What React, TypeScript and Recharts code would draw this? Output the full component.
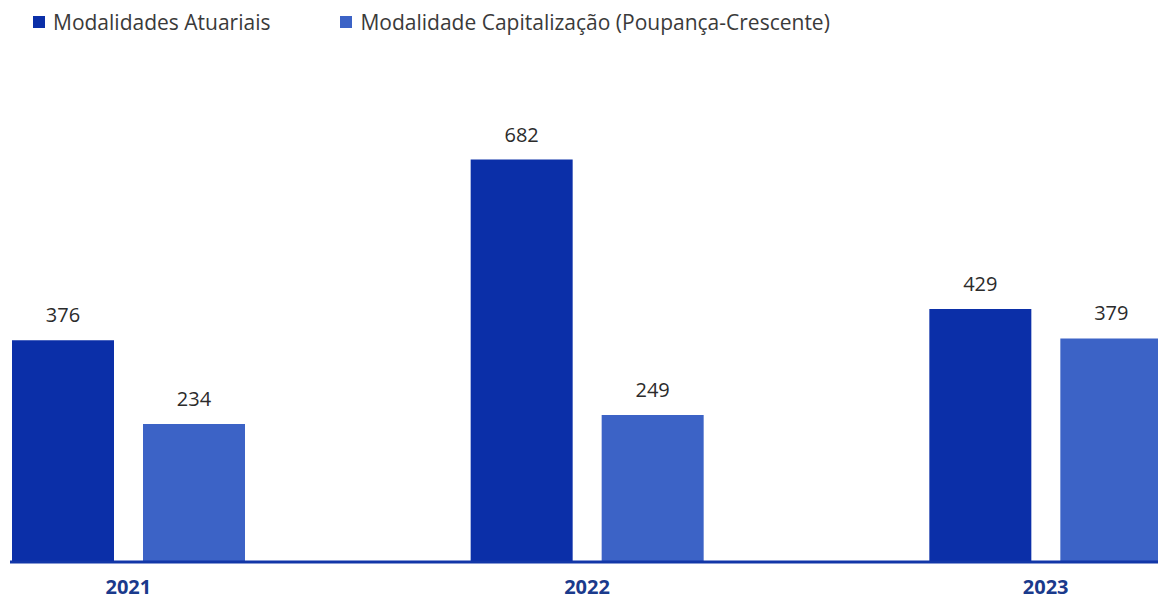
import { BarChart, Bar, XAxis, YAxis, LabelList } from "recharts";

const YEARS = ["2021", "2022", "2023"];
const ATUARIAIS = [376, 682, 429];
const CAPITALIZACAO = [234, 249, 379];

const SERIES = [
  { key: "atuariais", name: "Modalidades Atuariais", color: "#0b2fa8" },
  { key: "capitalizacao", name: "Modalidade Capitalização (Poupança-Crescente)", color: "#3c63c6" },
];

const FONT = "'Open Sans', sans-serif";

const data = YEARS.map((year, i) => ({
  year,
  atuariais: ATUARIAIS[i],
  capitalizacao: CAPITALIZACAO[i],
}));

function LegendRow() {
  return (
    <div
      style={{
        position: "absolute",
        left: 23,
        top: 8,
        display: "flex",
        alignItems: "center",
        fontFamily: FONT,
        fontSize: 21,
        color: "#3a3a3a",
        zIndex: 2,
      }}
    >
      {SERIES.map((s, i) => (
        <div
          key={s.key}
          style={{ display: "flex", alignItems: "center", marginRight: i === 0 ? 70 : 0 }}
        >
          <span style={{ width: 12, height: 12, background: s.color, display: "inline-block", marginRight: 8 }} />
          <span>{s.name}</span>
        </div>
      ))}
    </div>
  );
}

export default function App() {
  return (
    <div
      style={{
        position: "fixed",
        left: 10,
        top: 0,
        width: 1148,
        height: 600,
        overflow: "hidden",
        background: "#fff",
      }}
    >
      <LegendRow />
      <div style={{ position: "absolute", left: -111, top: 0 }}>
        <BarChart
          width={1376}
          height={600}
          data={data}
          margin={{ top: 90, right: 0, bottom: 0, left: 0 }}
          barGap={29}
        >
          <XAxis
            dataKey="year"
            height={38}
            tickLine={false}
            tickMargin={12}
            axisLine={{ stroke: "#1237a8", strokeWidth: 3 }}
            tick={{ fill: "#1a3a8c", fontSize: 20, fontWeight: 700, fontFamily: FONT }}
          />
          <YAxis hide domain={[0, 800]} />
          {SERIES.map((s) => (
            <Bar
              key={s.key}
              dataKey={s.key}
              name={s.name}
              fill={s.color}
              barSize={102}
              isAnimationActive={false}
            >
              <LabelList
                dataKey={s.key}
                position="top"
                offset={18}
                style={{ fill: "#2b2b2b", fontSize: 20, fontFamily: FONT }}
              />
            </Bar>
          ))}
        </BarChart>
      </div>
    </div>
  );
}
